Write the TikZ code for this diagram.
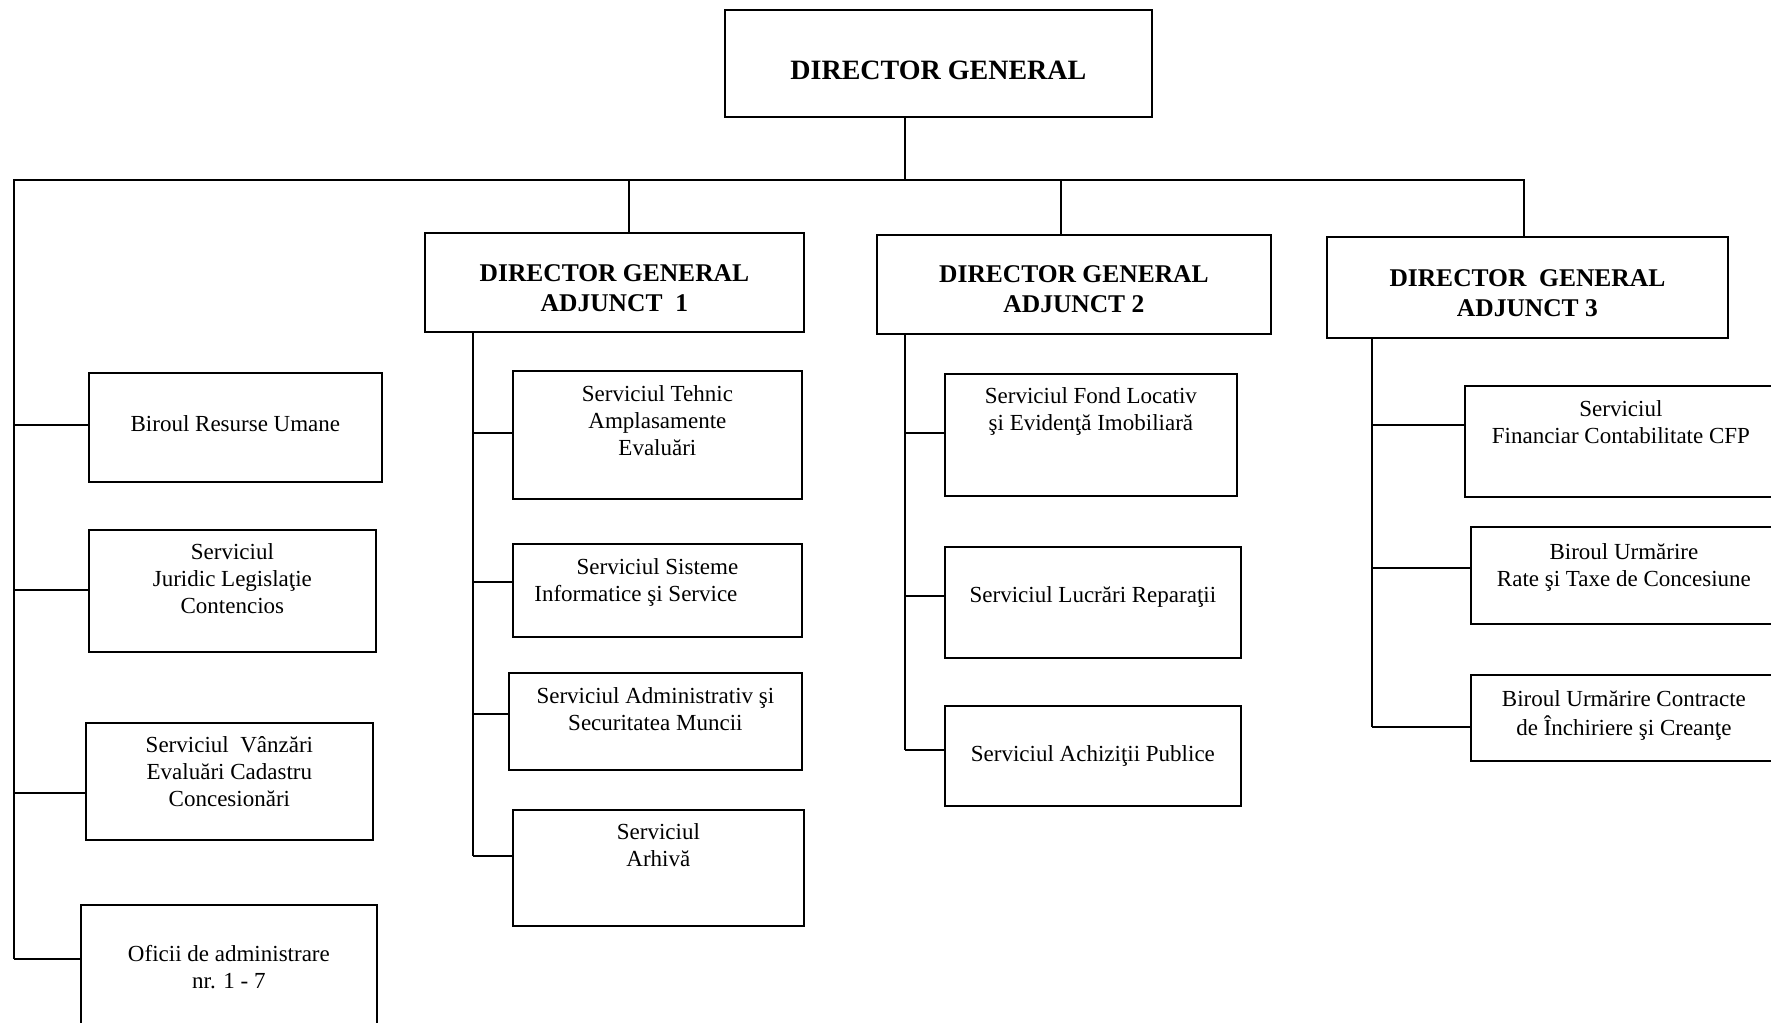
\documentclass[tikz,border=0pt]{standalone}
\usepackage{fontspec}
\setmainfont{Liberation Serif}
\usetikzlibrary{positioning}

% box of fixed size, text starts #3 below the top
\newcommand{\boxtext}[4]{\parbox[c][#2pt][t]{#1pt}{\centering\vspace*{#3pt}\strut #4}}

\tikzset{
  unit/.style={draw, line width=1.8pt, inner sep=0pt, anchor=north west, font=\fontsize{23}{27}\selectfont},
  head/.style={unit, font=\fontsize{25.5}{30}\selectfont\bfseries},
  link/.style={line width=1.8pt}
}

\begin{document}
\begin{tikzpicture}[x=1pt, y=-1pt]
\useasboundingbox (0,0) rectangle (1771,1022);
\clip (0,0) rectangle (1771,1022);

% Top box and the deputies
\node[head, font=\fontsize{28}{33}\selectfont\bfseries] (dg) at (724,9) {\boxtext{427}{107}{47}{DIRECTOR GENERAL}};
\node[head] (dga1) at (424,232) {\boxtext{379}{99}{28}{DIRECTOR GENERAL\\ADJUNCT\ \ 1}};
\node[head] (dga2) at (876,234) {\boxtext{394}{99}{27}{DIRECTOR GENERAL\\ADJUNCT 2}};
\node[head] (dga3) at (1326,236) {\boxtext{401}{101}{29}{DIRECTOR\ \ GENERAL\\ADJUNCT 3}};

% Units under the director general
\node[unit] (rum) at (88,372) {\boxtext{293}{109}{40}{Biroul Resurse Umane}};
\node[unit] (jur) at (88,529) {\boxtext{287}{122}{11}{Serviciul\\Juridic Legislaţie\\Contencios}};
\node[unit] (vnz) at (85,722) {\boxtext{287}{117}{11}{Serviciul\ \ Vânzări\\Evaluări Cadastru\\Concesionări}};
\node[unit] (ofi) at (80,904) {\boxtext{296}{140}{38}{Oficii de administrare\\nr. 1 - 7}};

% Units under adjunct 1
\node[unit] (teh) at (512,370) {\boxtext{289}{128}{12}{Serviciul Tehnic\\Amplasamente\\Evaluări}};
\node[unit] (sis) at (512,543) {\boxtext{289}{93}{12}{Serviciul Sisteme\hspace*{27pt}\\Informatice şi Service\hspace*{43pt}}};
\node[unit] (adm) at (508,672) {\boxtext{293}{97}{12}{Serviciul Administrativ şi\\Securitatea Muncii}};
\node[unit] (arh) at (512,809) {\boxtext{291}{116}{11}{Serviciul\\Arhivă}};

% Units under adjunct 2
\node[unit] (fon) at (944,373) {\boxtext{292}{122}{11}{Serviciul Fond Locativ\\şi Evidenţă Imobiliară}};
\node[unit] (luc) at (944,546) {\boxtext{296}{111}{37}{Serviciul Lucrări Reparaţii}};
\node[unit] (ach) at (944,705) {\boxtext{296}{100}{37}{Serviciul Achiziţii Publice}};

% Units under adjunct 3
\node[unit] (fin) at (1464,385) {\boxtext{312}{111}{12}{Serviciul\\Financiar Contabilitate CFP}};
\node[unit] (rat) at (1470,526) {\boxtext{306}{97}{14}{Biroul Urmărire\\Rate şi Taxe de Concesiune}};
\node[unit] (con) at (1470,674) {\boxtext{306}{86}{13}{Biroul Urmărire Contracte\\de Închiriere şi Creanţe}};

% Bus and spines
\coordinate (bus) at (905,180);
\coordinate (lsp) at (14,180);
\coordinate (rsp) at (1524,180);
\coordinate (bus1) at (629,180);
\coordinate (bus2) at (1061,180);

\coordinate (jl1) at (14,425);
\coordinate (jl2) at (14,590);
\coordinate (jl3) at (14,793);
\coordinate (jl4) at (14,959);
\coordinate (ja1) at (473,433);
\coordinate (ja2) at (473,582);
\coordinate (ja3) at (473,714);
\coordinate (ja4) at (473,856);
\coordinate (jb1) at (905,433);
\coordinate (jb2) at (905,596);
\coordinate (jb3) at (905,750);
\coordinate (jc1) at (1372,425);
\coordinate (jc2) at (1372,568);
\coordinate (jc3) at (1372,727);

\draw[link] (dg.south -| bus) -- (bus);
\draw[link] (jl4) -- (lsp) -- (rsp) -- (rsp |- dga3.north);
\draw[link] (bus1) -- (bus1 |- dga1.north);
\draw[link] (bus2) -- (bus2 |- dga2.north);

\draw[link] (jl1) -- (jl1 -| rum.west);
\draw[link] (jl2) -- (jl2 -| jur.west);
\draw[link] (jl3) -- (jl3 -| vnz.west);
\draw[link] (jl4) -- (jl4 -| ofi.west);

\draw[link] (dga1.south -| ja4) -- (ja4);
\draw[link] (ja1) -- (ja1 -| teh.west);
\draw[link] (ja2) -- (ja2 -| sis.west);
\draw[link] (ja3) -- (ja3 -| adm.west);
\draw[link] (ja4) -- (ja4 -| arh.west);

\draw[link] (dga2.south -| jb3) -- (jb3);
\draw[link] (jb1) -- (jb1 -| fon.west);
\draw[link] (jb2) -- (jb2 -| luc.west);
\draw[link] (jb3) -- (jb3 -| ach.west);

\draw[link] (dga3.south -| jc3) -- (jc3);
\draw[link] (jc1) -- (jc1 -| fin.west);
\draw[link] (jc2) -- (jc2 -| rat.west);
\draw[link] (jc3) -- (jc3 -| con.west);
\end{tikzpicture}
\end{document}
